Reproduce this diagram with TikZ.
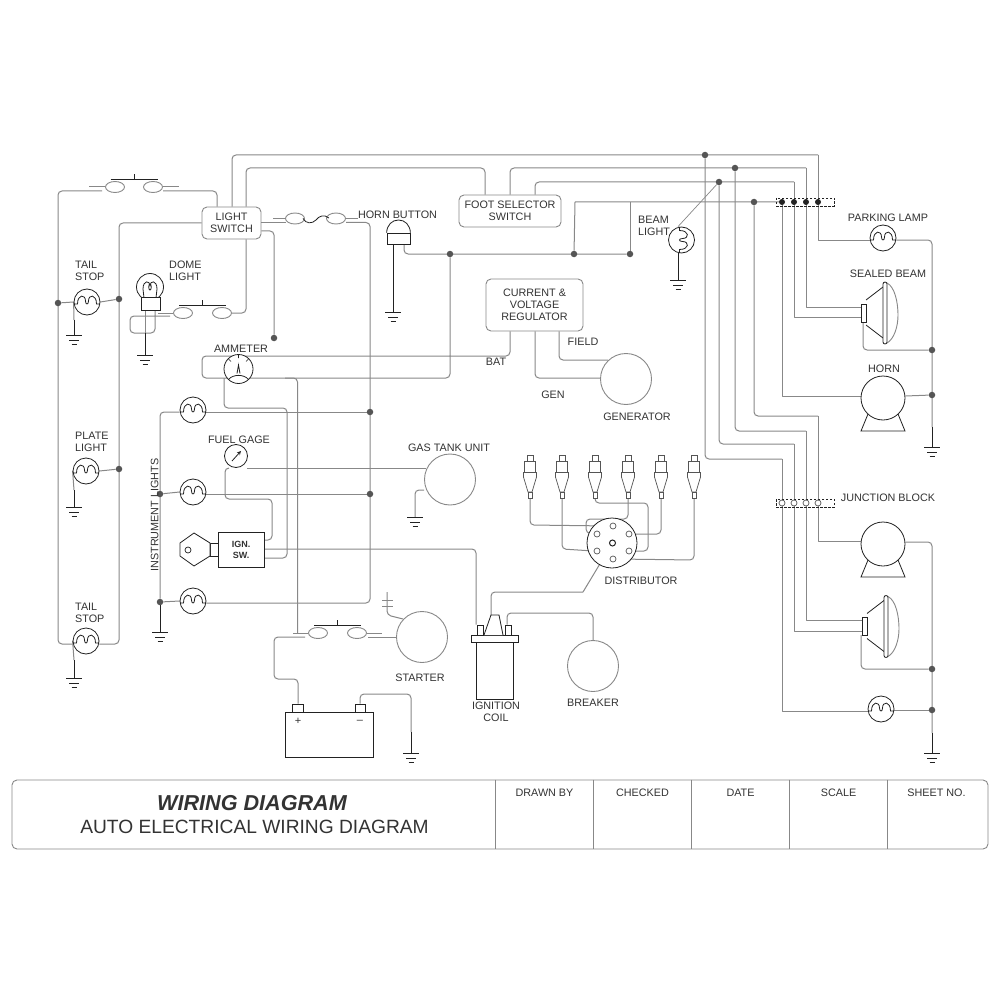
\documentclass[tikz,border=0pt]{standalone}
\usepackage{fontspec}
\setmainfont{Liberation Sans}
\usetikzlibrary{shapes.geometric,backgrounds}
\definecolor{wirec}{HTML}{888888}
\definecolor{txtc}{HTML}{333333}
\definecolor{dotc}{HTML}{555555}
\definecolor{symc}{HTML}{222222}
\tikzset{
  wire/.style={draw=wirec,line width=1pt,line join=round},
  rwire/.style={wire,rounded corners=4pt},
  stem/.style={draw=symc,line width=0.8pt},
  sym/.style={draw=symc,line width=0.8pt,fill=white},
  lab/.style={text=txtc,inner sep=0pt,font=\fontsize{10.8}{12}\selectfont,align=center,yshift=-0.8pt},
  labl/.style={lab,align=left,anchor=west},
  boxn/.style={draw=wirec,line width=0.9pt,rounded corners=5pt,text=txtc,inner sep=0pt,font=\fontsize{10.8}{12}\selectfont,align=center},
  jdot/.style={circle,fill=dotc,inner sep=0pt,minimum size=6.5pt},
  bdot/.style={circle,fill=symc,inner sep=0pt,minimum size=6pt},
  odot/.style={circle,draw=dotc,fill=white,line width=0.7pt,inner sep=0pt,minimum size=6pt},
  lampn/.style={circle,sym,inner sep=0pt,minimum size=26pt},
  bigc/.style={circle,draw=wirec,fill=white,line width=0.9pt,inner sep=0pt,minimum size=51pt},
  motorn/.style={circle,sym,inner sep=0pt,minimum size=44pt},
  oval/.style={ellipse,draw=wirec,fill=white,line width=0.9pt,inner sep=0pt,minimum width=19pt,minimum height=11pt},
  blockn/.style={draw=symc,dashed,dash pattern=on 2.5pt off 1.5pt,line width=0.7pt,inner sep=0pt,minimum width=58pt,minimum height=8pt},
  filament/.pic={\draw[symc,line width=0.8pt] (-13,2) -- (-9.5,2) .. controls (-9.5,-8) and (-1.5,-8) .. (-1.5,-1) .. controls (-1.5,3) and (1.5,3) .. (1.5,-1) .. controls (1.5,-8) and (9.5,-8) .. (9.5,2) -- (13,2);},
  gnd/.pic={\draw[symc,line width=0.8pt] (-8,0) -- (8,0) (-5,5) -- (5,5) (-2.5,9) -- (2.5,9);},
  contactbar/.pic={\draw[symc,line width=0.9pt] (-23.5,-8) -- (23.5,-8) (0,-8) -- (0,-13);},
  motorfeet/.pic={\draw[sym,fill=none] (-15,16) -- (-22,33) -- (22,33) -- (15,16);},
  beamshape/.pic={
    \draw[symc,line width=0.8pt] (5,-13) -- (22,-26) (5,12) -- (22,25);
    \draw[wirec,line width=0.9pt] (26,-30) .. controls (34,-26) and (37,-10) .. (37,2) .. controls (37,14) and (33,26) .. (26,30);
    \draw[sym,rounded corners=2pt] (22,-31) rectangle (26,31);},
  plugshape/.pic={
    \draw[draw=dotc,line width=0.7pt,fill=white] (-3,0) rectangle (3,6);
    \draw[draw=dotc,line width=0.7pt,fill=white] (-5.5,6) rectangle (5.5,17);
    \draw[draw=dotc,line width=0.7pt,fill=white] (-6.5,17) rectangle (6.5,22);
    \draw[draw=dotc,line width=0.7pt,fill=white] (-6.5,22) -- (-2,37) -- (2,37) -- (6.5,22);
    \draw[draw=dotc,line width=0.7pt,fill=white] (-2,37) rectangle (2,43);},
}
\newcommand\lampat[4]{\node[lampn] (#1) at (#2,#3) {}; \pic[rotate=#4] at (#1) {filament};}
\begin{document}
\begin{tikzpicture}[x=1pt,y=-1pt]
\useasboundingbox (0,0) rectangle (1000,1000);
% ---------- text boxes
\node[boxn,minimum width=59pt,minimum height=32pt] (lightsw) at (231.5,223) {LIGHT\\SWITCH};
\node[boxn,minimum width=102pt,minimum height=32pt] (footsw) at (510,211) {FOOT SELECTOR\\SWITCH};
\node[boxn,minimum width=97pt,minimum height=52pt] (reg) at (534.5,305) {CURRENT \&\\VOLTAGE\\REGULATOR};
% ---------- junction dots
\foreach \n/\x/\y in {jA/705/155,jB/735/168,jC/719/182,jD/754/202,jE/574/254,jF/630/254,jG/450/254,jH/274/338,jI/58/303,jJ/119/299,jK/119/469,jL/370/412,jM/370/494,jN/160/494,jO/160/602,jP/932/350,jQ/932/395,jR/932/669,jS/932/710}
  \node[jdot] (\n) at (\x,\y) {};
% ---------- junction blocks
\node[blockn] (block1) at (805,202) {};
\node[blockn] (block2) at (805,503) {};
\foreach \n/\x in {1/782,2/794,3/806,4/818} {
  \node[bdot] (b\n) at (\x,202) {};
  \node[odot] (c\n) at (\x,503) {};
}
% ---------- lamps
\lampat{lampA}{87}{302}{0}
\lampat{lampB}{86}{471}{0}
\lampat{lampC}{86}{641}{0}
\lampat{lampD}{193}{410}{0}
\lampat{lampE}{193}{492}{0}
\lampat{lampF}{193}{601}{0}
\lampat{lampP}{883}{238}{0}
\lampat{lampQ}{881}{709}{0}
\lampat{lampR}{681.5}{240}{-90}
% ---------- dome light
\node[circle,sym,inner sep=0pt,minimum size=27pt] (dome) at (150,287) {};
\draw[symc,line width=0.8pt] (144,298) -- (143,289) .. controls (143,280) and (150,280) .. (150,286) .. controls (150,280) and (157,280) .. (157,289) -- (156,298);
\draw[symc,line width=0.8pt] (150,287) ellipse (1.3 and 3);
\node[sym,inner sep=0pt,minimum width=19pt,minimum height=13pt] (domebase) at (150.5,303.5) {};
% ---------- horn button
\node[sym,inner sep=0pt,minimum width=23pt,minimum height=11pt] (hornb) at (398.5,238.5) {};
\draw[symc,line width=0.8pt] (hornb.north west) .. controls (387,225) and (392,220) .. (398.5,220) .. controls (405,220) and (410,225) .. (hornb.north east);
% ---------- ammeter and gauge
\node[circle,sym,inner sep=0pt,minimum size=29pt] (amm) at (238.5,369) {};
\draw[symc,line width=0.8pt] (228.5,379.5) .. controls (233,374) and (244,374) .. (248.5,379.5);
\draw[symc,line width=0.8pt] (237,373.5) -- (238.5,365) -- (240,373.5);
\draw[symc,line width=0.6pt] (238.5,355) -- (238.5,358) (228.5,359) -- (231,361.5) (248.5,359) -- (246,361.5);
\node[circle,sym,inner sep=0pt,minimum size=23pt] (gauge) at (236,456) {};
\draw[symc,line width=0.8pt,-stealth] (232,461) -- (241,451);
% ---------- ignition switch
\node[draw=symc,fill=white,line width=0.9pt,inner sep=0pt,minimum width=46pt,minimum height=35pt,font=\bfseries\fontsize{9}{11}\selectfont,align=center,text=txtc] (ign) at (241,549.5) {IGN.\\SW.};
\node[sym,inner sep=0pt,minimum width=8pt,minimum height=13pt] (keyneck) at (214,549.5) {};
\draw[sym] (194,533) -- (210,543) -- (210,556) -- (194,566) -- (180,556) -- (180,543) -- cycle;
\node[circle,draw=symc,line width=0.7pt,inner sep=0pt,minimum size=6pt] (keyhole) at (188,550) {};
% ---------- big circles
\node[bigc] (gen) at (626,379) {};
\node[bigc] (gas) at (450,479.5) {};
\node[bigc] (starter) at (422,637) {};
\node[bigc] (breaker) at (593,666) {};
% ---------- motors
\node[motorn] (horn) at (883,398) {};
\pic at (horn) {motorfeet};
\node[motorn] (motorB) at (883,544) {};
\pic at (motorB) {motorfeet};
% ---------- sealed beams
\coordinate (beamAo) at (861,313);
\coordinate (beamBo) at (862,626.5);
\pic at (beamAo) {beamshape};
\pic at (beamBo) {beamshape};
\node[sym,inner sep=0pt,minimum width=5pt,minimum height=18pt] (beamA) at (863.5,313) {};
\node[sym,inner sep=0pt,minimum width=5pt,minimum height=18pt] (beamB) at (864.5,626.5) {};
% ---------- switches
\node[oval] (sa1) at (115,187) {};
\node[oval] (sa2) at (153,187) {};
\coordinate (sac) at (134,187);
\pic at (sac) {contactbar};
\node[oval] (sb1) at (183,313) {};
\node[oval] (sb2) at (222,313) {};
\coordinate (sbc) at (202.5,313);
\pic at (sbc) {contactbar};
\node[oval] (sc1) at (318,633) {};
\node[oval] (sc2) at (357,633) {};
\coordinate (scc) at (337.5,633);
\pic at (scc) {contactbar};
\node[oval] (fa) at (295,218.5) {};
\node[oval] (fb) at (336,218.5) {};
% ---------- battery
\node[sym,inner sep=0pt,minimum width=88pt,minimum height=45pt] (batt) at (329,734.5) {};
\node[sym,inner sep=0pt,minimum width=11pt,minimum height=8pt] (tp) at (297.5,708) {};
\node[sym,inner sep=0pt,minimum width=10pt,minimum height=8pt] (tm) at (360,708) {};
\node[text=txtc,inner sep=0pt,font=\fontsize{11}{12}\selectfont] (plus) at (298,721.5) {+};
\node[text=txtc,inner sep=0pt,font=\fontsize{11}{12}\selectfont] (minus) at (360,721.5) {--};
% ---------- ignition coil
\node[draw=symc,line width=0.9pt,inner sep=0pt,minimum width=37pt,minimum height=57pt] (coil) at (494.5,670.5) {};
\node[sym,inner sep=0pt,minimum width=47pt,minimum height=7pt] (coilcap) at (494.5,638.5) {};
\node[sym,inner sep=0pt,minimum width=6pt,minimum height=10pt] (coilt1) at (480,630) {};
\node[sym,inner sep=0pt,minimum width=6pt,minimum height=10pt] (coilt2) at (508,630) {};
\coordinate (coiltop) at (491,615);
\draw[sym] (484,635) -- (coiltop) -- (499,615) -- (503,635);
% ---------- distributor
\node[circle,sym,inner sep=0pt,minimum size=50pt] (dist) at (612,543) {};
\node[odot] (dt1) at (613,526) {};
\node[odot] (dt2) at (597,534) {};
\node[odot] (dt3) at (629,534) {};
\node[odot] (dt4) at (597,551) {};
\node[odot] (dt5) at (629,551) {};
\node[odot] (dt6) at (613,559) {};
\node[circle,draw=symc,fill=white,line width=1pt,inner sep=0pt,minimum size=6pt] (dtc) at (612.5,543) {};
% ---------- plugs
\foreach \i/\x in {1/530,2/562,3/595,4/628,5/661,6/694} {
  \coordinate (plugt\i) at (\x,455);
  \pic at (plugt\i) {plugshape};
  \coordinate (plug\i) at (\x,498);
}
% ---------- grounds
\foreach \n/\x/\y in {gA/74/335,gB/145/355,gC/74/507,gD/74/678,gE/160/632,gF/393/312,gG/678/280,gH/415/517,gI/411/753,gJ/932/447,gK/932/753} {
  \coordinate (\n) at (\x,\y);
  \pic at (\n) {gnd};
}
% ---------- labels
\node[labl] (l1) at (75,270) {TAIL\\STOP};
\node[labl] (l2) at (75,441) {PLATE\\LIGHT};
\node[labl] (l3) at (75,612) {TAIL\\STOP};
\node[labl] (l4) at (169,270) {DOME\\LIGHT};
\node[lab] (l5) at (241,348) {AMMETER};
\node[lab] (l6) at (397.5,214) {HORN BUTTON};
\node[labl] (l7) at (638,225) {BEAM\\LIGHT};
\node[lab] (l8) at (888,217) {PARKING LAMP};
\node[lab] (l9) at (888,273) {SEALED BEAM};
\node[lab] (l10) at (884,368) {HORN};
\node[lab] (l11) at (888,497) {JUNCTION BLOCK};
\node[lab] (l12) at (496,361) {BAT};
\node[lab] (l13) at (583,341) {FIELD};
\node[lab] (l14) at (553,394) {GEN};
\node[lab] (l15) at (637,416) {GENERATOR};
\node[lab] (l16) at (239,439) {FUEL GAGE};
\node[lab] (l17) at (449,447) {GAS TANK UNIT};
\node[text=txtc,inner sep=0pt,font=\fontsize{10.8}{12}\selectfont,rotate=90] (l18) at (154.6,515) {INSTRUMENT LIGHTS};
\node[lab] (l19) at (420,677) {STARTER};
\node[lab] (l20) at (496,711) {IGNITION\\COIL};
\node[lab] (l21) at (593,702) {BREAKER};
\node[lab] (l22) at (641,580) {DISTRIBUTOR};
% ---------- title block
\node[draw=wirec,line width=0.9pt,rounded corners=5pt,inner sep=0pt,minimum width=976pt,minimum height=69pt] (tblock) at (500,814.5) {};
\foreach \x in {495.5,593.5,691.5,789.5,887.5}
  \draw[draw=wirec,line width=0.8pt] (\x,0 |- tblock.north) -- (\x,0 |- tblock.south);
\node[text=txtc,inner sep=0pt,font=\bfseries\itshape\fontsize{21.6}{24}\selectfont] (t1) at (252,803.5) {WIRING DIAGRAM};
\node[text=txtc,inner sep=0pt,font=\fontsize{19.2}{22}\selectfont] (t2) at (254.5,826.5) {AUTO ELECTRICAL WIRING DIAGRAM};
\node[lab] (t3) at (544.5,792) {DRAWN BY};
\node[lab] (t4) at (642.5,792) {CHECKED};
\node[lab] (t5) at (740.5,792) {DATE};
\node[lab] (t6) at (838.5,792) {SCALE};
\node[lab] (t7) at (936.5,792) {SHEET NO.};
% ---------- wires, behind all the symbols
\begin{scope}[on background layer]
\fill[white] (0,0) rectangle (1000,1000);
% long harness
\draw[rwire] (232,0 |- lightsw.north) -- (232,155) -- (818,155);
\draw[wire] (818,155) -- (818,240) -- (lampP.west |- 818,240);
\draw[rwire] (246,0 |- lightsw.north) -- (246,168) -- (485,168) -- (485,0 |- footsw.north);
\draw[rwire] (510,0 |- footsw.north) -- (510,168) -- (806,168);
\draw[wire] (806,168) -- (806,307) -- (beamA.west |- 806,307);
\draw[rwire] (535,0 |- footsw.north) -- (535,182) -- (794,182);
\draw[wire] (794,182) -- (794,317) -- (beamA.west |- 794,317);
\draw[rwire] (jA) -- (705,459) -- (782,459);
\draw[wire] (782,459) -- (782,711) -- (lampQ.west |- 782,711);
\draw[rwire] (jB) -- (735,431) -- (806,431);
\draw[wire] (806,431) -- (806,620) -- (beamB.west |- 806,620);
\draw[rwire] (jC) -- (719,444) -- (794,444);
\draw[wire] (794,444) -- (794,631) -- (beamB.west |- 794,631);
\draw[rwire] (jD) -- (754,416) -- (818,416);
\draw[wire] (818,416) -- (818,541) -- (motorB.west |- 818,541);
\draw[wire] (jE) -- (575,202) -- (b1);
\draw[wire] (jF) -- (630,202);
\draw[wire] (b1) -- (782,396) -- (horn.west |- 782,396);
\draw[wire] (horn.east |- 932,396) -- (jQ);
\draw[rwire] (lampP.east |- 932,240) -- (932,240) -- (932,427);
\draw[stem] (932,427) -- (gJ);
\draw[rwire] (863,322) -- (863,350) -- (jP);
\draw[rwire] (motorB.east |- 932,542) -- (932,542) -- (932,733);
\draw[stem] (932,733) -- (gK);
\draw[rwire] (861,635) -- (861,669) -- (jR);
\draw[wire] (lampQ.east |- jS) -- (jS);
\draw[wire,line width=0.7pt] (jC) -- (lampR.north -| 678,0);
\draw[stem] (678,253) -- (gG);
% horn button and regulator
\draw[rwire] (404,0 |- hornb.south) -- (404,254) -- (jF);
\draw[stem] (393,0 |- hornb.south) -- (gF);
\draw[rwire] (jG) -- (450,378) -- (202,378) -- (202,356) -- (510,356) -- (510,0 |- reg.south);
\draw[rwire] (535,0 |- reg.south) -- (535,378) -- (gen.west |- 535,378);
\draw[rwire] (559,0 |- reg.south) -- (559,360) -- (608,360);
% ammeter loops
\draw[rwire] (224,378) -- (224,408) -- (287,408) -- (287,558) -- (ign.east |- 287,558);
\draw[rwire] (285,378) -- (297.5,378) -- (297.5,633);
% ignition switch and gauge
\draw[rwire] (ign.east |- 476,549) -- (476,549) -- (476,0 |- coilt1.north);
\draw[rwire] (ign.east |- 272,540) -- (272,540) -- (272,499) -- (225,499) -- (225,468) -- (229,468);
\draw[wire] (247,468) -- (426,468);
\draw[rwire] (gas.west |- 415,490) -- (415,490) -- (gH);
% light switch
\draw[rwire] (lightsw.west |- 119,223) -- (119,223) -- (119,644) -- (lampC.east |- 119,644);
\draw[rwire] (lampC.west |- 58,644) -- (58,644) -- (58,191) -- (102,191);
\draw[rwire] (163,191) -- (217,191) -- (217,0 |- lightsw.north);
\draw[wire] (89,187) -- (sa1.west) (sa2.east) -- (179,187);
\draw[rwire] (246,0 |- lightsw.south) -- (246,313) -- (sb2.east);
\draw[rwire] (lightsw.east |- 274,231) -- (274,231) -- (jH);
\draw[wire] (158,313) -- (sb1.west);
\draw[rwire] (170,316) -- (130,316) -- (130,333) -- (155,333) -- (155,0 |- domebase.south);
\draw[wire] (145,0 |- domebase.south) -- (145,333);
\draw[stem] (145,333) -- (gB);
% fuse
\draw[wire] (273,218.5) -- (fa.west) (fb.east) -- (358,218.5);
\draw[wire] (lightsw.east |- 286,222.5) -- (286,222.5);
\draw[rwire] (346,222.5) -- (370,222.5) -- (370,603) -- (lampF.east |- 370,603);
\draw[wire] (jL) -- (lampD.east |- jL);
\draw[wire] (jM) -- (lampE.east |- jM);
% instrument lights
\draw[rwire] (lampD.west |- 160,412) -- (160,412) -- (jO);
\draw[wire] (jN) -- (lampE.west);
\draw[wire] (jO) -- (lampF.west);
\draw[stem] (jO) -- (gE);
% tail and plate lamps
\draw[wire] (jI) -- (lampA.west);
\draw[wire] (jJ) -- (lampA.east);
\draw[wire] (jK) -- (lampB.east);
\draw[wire] (lampA.west) -- (74,320);
\draw[stem] (74,320) -- (gA);
\draw[wire] (lampB.west) -- (74,490);
\draw[stem] (74,490) -- (gC);
\draw[wire] (lampC.west) -- (74,660);
\draw[stem] (74,660) -- (gD);
% starter and battery
\draw[wire] (293,633) -- (sc1.west);
\draw[wire] (sc2.east) -- (382,633);
\draw[rwire] (305,637) -- (274,637) -- (274,679) -- (298,679) -- (298,0 |- tp.north);
\draw[wire] (368,637) -- (starter.west);
\draw[rwire] (387,592) -- (387,615) -- (403,619);
\draw[wire] (382,600) -- (393,600) (382,606) -- (393,606);
\draw[rwire] (360,0 |- tm.north) -- (360,694) -- (411,694) -- (411,732);
\draw[stem] (411,732) -- (gI);
% coil, breaker, distributor
\draw[rwire] (coiltop) -- (491,592) -- (583,592);
\draw[wire] (583,592) -- (dtc);
\draw[rwire] (507,0 |- coilt2.north) -- (507,613) -- (593,613) -- (breaker.north);
\draw[rwire] (plug1) -- (530,525) -- (dt1.west);
\draw[rwire] (plug2) -- (562,549) -- (dt4.west);
\draw[rwire] (plug3) -- (595,503) -- (648,503) -- (648,551) -- (dt5.east);
\draw[rwire] (plug4) -- (628,519) -- (586,519) -- (586,533) -- (dt2.west);
\draw[rwire] (plug5) -- (661,534) -- (dt3.east);
\draw[rwire] (plug6) -- (694,560) -- (dt6.east);
\end{scope}
% fuse link on top of the contacts
\draw[symc,line width=0.8pt] (fa.center) ++(8,0) .. controls (306,224) and (312,224) .. (316,220) .. controls (319,216) and (324,214) .. (329,218);
\end{tikzpicture}
\end{document}
